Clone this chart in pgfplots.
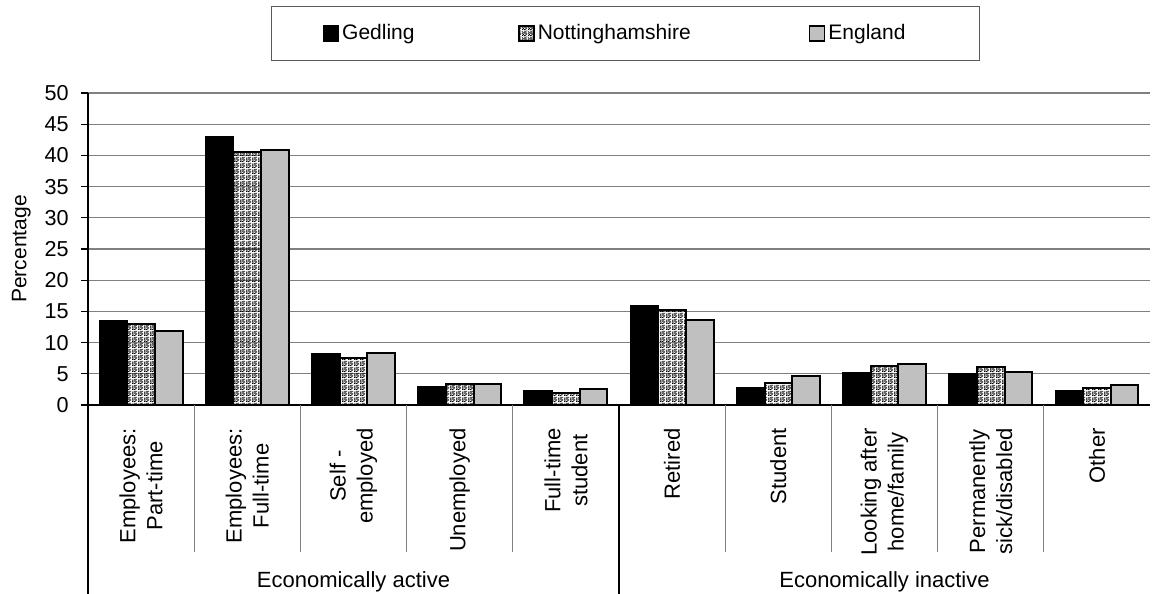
\documentclass[border=0pt]{standalone}
\usepackage{fontspec}
\setmainfont{Liberation Sans}
\usepackage{pgfplots}
\usepackage{pgfplotstable}
\pgfplotsset{compat=1.18}
\usetikzlibrary{patterns}

\definecolor{gridgray}{RGB}{128,128,128}
\definecolor{bargray}{RGB}{192,192,192}
\definecolor{framegray}{RGB}{90,90,90}

% fine confetti texture for the county bars (6x6 cells of 0.5pt)
\newcommand\cell[2]{\pgfpathrectangle{\pgfqpoint{#1pt}{#2pt}}{\pgfqpoint{0.5pt}{0.5pt}}}
\pgfdeclarepatternformonly{confetti}{\pgfpointorigin}{\pgfqpoint{3pt}{3pt}}{\pgfqpoint{3pt}{3pt}}{%
  \cell{0}{0}\cell{1}{0}\cell{1.5}{0}%
  \cell{0.5}{0.5}\cell{2}{0.5}%
  \cell{0}{1}\cell{1.5}{1}\cell{2.5}{1}%
  \cell{0.5}{1.5}\cell{1}{1.5}\cell{2}{1.5}%
  \cell{0}{2}\cell{1.5}{2}%
  \cell{1}{2.5}\cell{2}{2.5}\cell{2.5}{2.5}%
  \pgfusepath{fill}}

% economic activity, percentage of residents aged 16-74
\pgfplotstableread{
x  G     N     E
0  13.5  13.0  11.8
1  43.0  40.5  40.8
2  8.2   7.5   8.3
3  2.9   3.3   3.3
4  2.3   1.9   2.6
5  15.8  15.2  13.6
6  2.8   3.5   4.7
7  5.1   6.3   6.5
8  5.0   6.1   5.3
9  2.3   2.7   3.2
}\activitytable

\begin{document}
\begin{tikzpicture}
\path[use as bounding box] (0,0) rectangle (576pt,297pt);
\begin{axis}[
  at={(44pt,94.5pt)}, anchor=south west,
  scale only axis, width=531pt, height=156pt,
  clip=false,
  xmin=-0.5, xmax=9.5, ymin=0, ymax=50,
  axis x line*=bottom, axis y line*=left,
  axis line style={black, line width=0.6pt},
  ytick={0,5,...,50},
  ymajorgrids,
  grid style={gridgray, line width=0.65pt},
  ytick style={black, line width=0.6pt},
  tick align=outside,
  major tick length=3.5pt,
  yticklabel style={font=\fontsize{10.8}{12}\selectfont, inner sep=0pt, xshift=-6pt},
  /pgf/number format/assume math mode=true,
  xtick={0,...,9},
  xtick style={draw=none},
  xticklabels={
    {Employees:\\Part-time},
    {Employees:\\Full-time},
    {Self -\\employed},
    {Unemployed},
    {Full-time\\student},
    {Retired},
    {Student},
    {Looking after\\home/family},
    {Permanently\\sick/disabled},
    {Other}},
  xticklabel style={rotate=90, anchor=east, align=center, inner sep=0pt,
    font=\fontsize{11}{13.5}\selectfont},
  xticklabel shift=8pt,
  legend columns=3,
  legend image code/.code={\draw[#1, line width=0.8pt] (0pt,-3.75pt) rectangle (7.5pt,3.75pt);},
  legend style={
    at={(0.17232,1.27885)}, anchor=north west,
    draw=framegray, line width=0.6pt,
    inner xsep=25.5pt, inner ysep=7.5pt,
    font=\fontsize{10.5}{12}\selectfont,
    nodes={inner xsep=1.5pt, inner ysep=1pt, text height=7.8pt, text depth=2.2pt},
    column sep=0pt,
  },
]
\addplot[ybar, bar width=0.26, bar shift=-0.26, fill=black, draw=black, line width=1pt]
  table[x=x, y=G] {\activitytable};
\addlegendentry{\makebox[86.5pt][l]{Gedling}}
\addplot[ybar, bar width=0.26, bar shift=0, pattern=confetti, pattern color=black, draw=black, line width=1pt]
  table[x=x, y=N] {\activitytable};
\addlegendentry{\makebox[134pt][l]{Nottinghamshire}}
\addplot[ybar, bar width=0.26, bar shift=0.26, fill=bargray, draw=black, line width=1pt]
  table[x=x, y=E] {\activitytable};
\addlegendentry{\makebox[48.5pt][l]{England}}

% category separators below the axis
\pgfplotsinvokeforeach{0.5,1.5,2.5,3.5,5.5,6.5,7.5,8.5}{
  \draw[gridgray, line width=0.6pt] (axis cs:#1,0) -- ++(0pt,-73.5pt);
}
% group separators
\draw[black, line width=0.6pt] (axis cs:-0.5,0) -- ++(0pt,-94.5pt);
\draw[black, line width=0.6pt] (axis cs:4.5,0) -- ++(0pt,-94.5pt);

% group captions
\node[anchor=base, font=\fontsize{11}{13}\selectfont] at ([yshift=-91pt]axis cs:2,0) {Economically active};
\node[anchor=base, font=\fontsize{11}{13}\selectfont] at ([yshift=-91pt]axis cs:7,0) {Economically inactive};

% value axis title
\node[rotate=90, font=\fontsize{10.5}{12}\selectfont] at (axis description cs:-0.0627,0.5) {Percentage};
\end{axis}
\end{tikzpicture}
\end{document}
